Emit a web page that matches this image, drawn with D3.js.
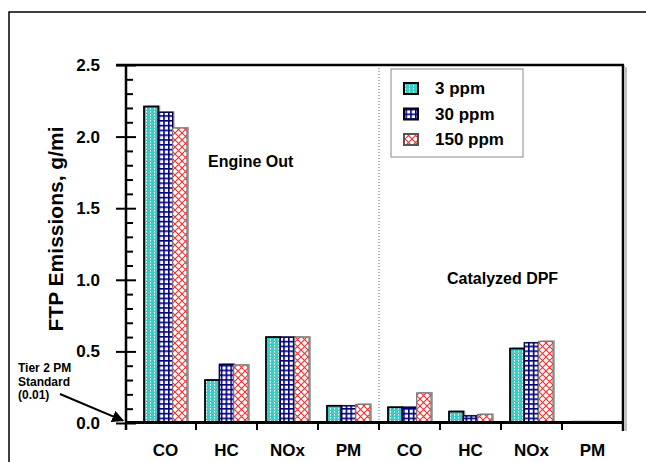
<!DOCTYPE html>
<html>
<head>
<meta charset="utf-8">
<script src="https://cdn.jsdelivr.net/npm/d3@7"></script>
<style>
  body { margin: 0; background: #fff; }
  text { font-family: "Liberation Sans", Arial, sans-serif; font-weight: bold; fill: #000; }
  .narrow { font-family: "Liberation Sans Narrow", "Liberation Sans", Arial, sans-serif; }
</style>
</head>
<body>
<div id="chart"></div>
<script>
const WIDTH = 646, HEIGHT = 462;

// data
const stages = ["Engine Out", "Catalyzed DPF"];
const pollutants = ["CO", "HC", "NOx", "PM"];
const seriesNames = ["3 ppm", "30 ppm", "150 ppm"];
const ppm3 = [2.21, 0.30, 0.60, 0.12, 0.11, 0.08, 0.52, 0.015];
const ppm30 = [2.17, 0.41, 0.60, 0.12, 0.11, 0.05, 0.56, 0.015];
const ppm150 = [2.06, 0.405, 0.60, 0.13, 0.21, 0.06, 0.57, 0.0];
const yTicks = [0, 0.5, 1.0, 1.5, 2.0, 2.5];
const tier2 = 0.01;
const tierLines = ["Tier 2 PM", "Standard", "(0.01)"];

const keys = [];
stages.forEach(s => pollutants.forEach(p => keys.push(s + "|" + p)));
const series = [ppm3, ppm30, ppm150];

const LEFT = 126, RIGHT = 623, TOP = 65, BOTTOM = 423;

const svg = d3.select("#chart").append("svg").attr("width", WIDTH).attr("height", HEIGHT);
const defs = svg.append("defs");

// patterns
const p1 = defs.append("pattern").attr("id", "pat0").attr("patternUnits", "userSpaceOnUse").attr("width", 4).attr("height", 3);
p1.append("rect").attr("width", 4).attr("height", 3).attr("fill", "#3ecbc4");
p1.append("rect").attr("x", 2).attr("y", 0).attr("width", 1).attr("height", 1.5).attr("fill", "#ffffff");

const p2 = defs.append("pattern").attr("id", "pat1").attr("patternUnits", "userSpaceOnUse").attr("width", 4.8).attr("height", 4.8);
p2.append("rect").attr("width", 4.8).attr("height", 4.8).attr("fill", "#fff");
p2.append("rect").attr("width", 1.6).attr("height", 4.8).attr("fill", "#000080");
p2.append("rect").attr("width", 4.8).attr("height", 1.6).attr("fill", "#000080");

const p3 = defs.append("pattern").attr("id", "pat2").attr("patternUnits", "userSpaceOnUse").attr("width", 7).attr("height", 7);
p3.append("rect").attr("width", 7).attr("height", 7).attr("fill", "#fff");
p3.append("path").attr("d", "M0,0 L7,7 M7,0 L0,7").attr("stroke", "#ff2a2a").attr("stroke-width", 1.1).attr("fill", "none");

const fills = ["url(#pat0)", "url(#pat1)", "url(#pat2)"];
const strokes = ["#000", "#000040", "#777"];
const strokeW = [1.8, 1.4, 1.2];

// outer frame
svg.append("rect").attr("x", 9).attr("y", 12).attr("width", 700).attr("height", 500)
  .attr("fill", "none").attr("stroke", "#000").attr("stroke-width", 1.5);

// scales
const x = d3.scaleBand().domain(keys).range([135, RIGHT]);
const xs = d3.scaleBand().domain(d3.range(3)).range([9, 52]);
const y = d3.scaleLinear().domain([0, 2.5]).range([BOTTOM, TOP]);

// divider dotted line
svg.append("line").attr("x1", x(keys[4])).attr("x2", x(keys[4]))
  .attr("y1", TOP).attr("y2", y(0)).attr("stroke", "#666").attr("stroke-width", 1).attr("stroke-dasharray", "1,2");

function drawBar(i, j, onTop) {
  const v = series[j][i];
  if (v <= 0) return;
  const bx = x(keys[i]) + xs(j), bw = xs.bandwidth();
  const by = y(v), bh = y(0) - y(v);
  if (onTop) {
    svg.append("rect").attr("x", bx).attr("y", by).attr("width", bw).attr("height", bh).attr("fill", "#111");
    return;
  }
  svg.append("rect").attr("x", bx + 2).attr("y", by - 1).attr("width", bw).attr("height", bh + 1).attr("fill", "#aaa");
  svg.append("rect").attr("x", bx).attr("y", by).attr("width", bw).attr("height", bh)
    .attr("fill", fills[j]).attr("stroke", strokes[j]).attr("stroke-width", strokeW[j]);
}

// bars
keys.forEach((k, i) => series.forEach((vals, j) => { if (vals[i] > 0.02) drawBar(i, j, false); }));

// Tier 2 PM standard band
svg.append("rect").attr("x", LEFT).attr("y", y(tier2)).attr("width", RIGHT - LEFT).attr("height", y(0) - y(tier2))
  .attr("fill", "#999");
svg.append("line").attr("x1", LEFT).attr("x2", RIGHT).attr("y1", y(tier2)).attr("y2", y(tier2))
  .attr("stroke", "#000").attr("stroke-width", 1.3);

// tiny bars sit on the band
keys.forEach((k, i) => series.forEach((vals, j) => { if (vals[i] > 0 && vals[i] <= 0.02) drawBar(i, j, true); }));

// y axis major (crossing) ticks
const gy = svg.append("g").attr("transform", "translate(" + LEFT + ",0)")
  .call(d3.axisLeft(y).tickValues(yTicks).tickFormat(d3.format(".1f")).tickSize(10).tickPadding(16));
gy.select(".domain").remove();
gy.selectAll(".tick line").attr("x1", 10).attr("stroke", "#000").attr("stroke-width", 2);
gy.selectAll(".tick text").style("font-size", "17px");

// y axis minor ticks (inward)
const minor = d3.range(0, 2.501, 0.1).filter(v => Math.abs(v * 2 - Math.round(v * 2)) > 1e-6);
const gm = svg.append("g").attr("transform", "translate(" + LEFT + ",0)")
  .call(d3.axisRight(y).tickValues(minor).tickSize(7).tickFormat(""));
gm.select(".domain").remove();
gm.selectAll(".tick line").attr("stroke", "#000").attr("stroke-width", 2);

// frame of plot
svg.append("line").attr("x1", LEFT).attr("x2", LEFT).attr("y1", TOP).attr("y2", 430).attr("stroke", "#000").attr("stroke-width", 2.5);
svg.append("line").attr("x1", LEFT - 10).attr("x2", RIGHT + 1).attr("y1", TOP).attr("y2", TOP).attr("stroke", "#000").attr("stroke-width", 2.5);
svg.append("line").attr("x1", RIGHT + 3).attr("x2", RIGHT + 3).attr("y1", TOP + 2).attr("y2", 431).attr("stroke", "#aaa").attr("stroke-width", 1.5);
svg.append("line").attr("x1", RIGHT).attr("x2", RIGHT).attr("y1", TOP).attr("y2", 431).attr("stroke", "#000").attr("stroke-width", 2.5);
svg.append("line").attr("x1", LEFT).attr("x2", RIGHT).attr("y1", y(0)).attr("y2", y(0)).attr("stroke", "#000").attr("stroke-width", 2);

// x axis
const gx = svg.append("g").attr("transform", "translate(0," + y(0) + ")")
  .call(d3.axisBottom(x).tickSize(0).tickPadding(21).tickFormat(k => k.split("|")[1]));
gx.select(".domain").remove();
gx.selectAll(".tick text").style("font-size", "17px");
gx.selectAll(".sep").data(keys).enter().append("line")
  .attr("x1", k => x(k) + x.bandwidth()).attr("x2", k => x(k) + x.bandwidth())
  .attr("y1", 0).attr("y2", 7).attr("stroke", "#000").attr("stroke-width", 2);

// y label
svg.append("text").attr("transform", "rotate(-90)").attr("x", -229).attr("y", 63)
  .attr("text-anchor", "middle").style("font-size", "21px").text("FTP Emissions, g/mi");

// stage labels
svg.append("text").attr("x", 208).attr("y", 167).style("font-size", "16px").text(stages[0]);
svg.append("text").attr("x", 447).attr("y", 284).style("font-size", "16px").text(stages[1]);

// tier 2 annotation
tierLines.forEach((t, i) => {
  svg.append("text").attr("class", "narrow").attr("x", 18).attr("y", 372 + i * 13.5)
    .style("font-size", "12px").text(t);
});
defs.append("marker").attr("id", "arrow").attr("viewBox", "0 0 10 10").attr("refX", 9).attr("refY", 5)
  .attr("markerWidth", 6).attr("markerHeight", 6).attr("orient", "auto")
  .append("path").attr("d", "M0,0 L10,5 L0,10 z").attr("fill", "#000");
svg.append("line").attr("x1", 60).attr("y1", 394).attr("x2", 123).attr("y2", y(tier2) - 1)
  .attr("stroke", "#000").attr("stroke-width", 2).attr("marker-end", "url(#arrow)");

// legend
const legend = svg.append("g").attr("transform", "translate(391,69)");
legend.append("rect").attr("width", 132).attr("height", 88).attr("fill", "#fff").attr("stroke", "#888").attr("stroke-width", 1);
seriesNames.forEach((name, i) => {
  const row = legend.append("g").attr("transform", "translate(0," + (19 + i * 25.5) + ")");
  row.append("rect").attr("x", 13).attr("y", -5).attr("width", 14).attr("height", 11)
    .attr("fill", fills[i]).attr("stroke", i === 2 ? "#555" : "#000").attr("stroke-width", 2);
  row.append("text").attr("x", 44).attr("y", 6).style("font-size", "17px").text(name);
});
</script>
</body>
</html>
